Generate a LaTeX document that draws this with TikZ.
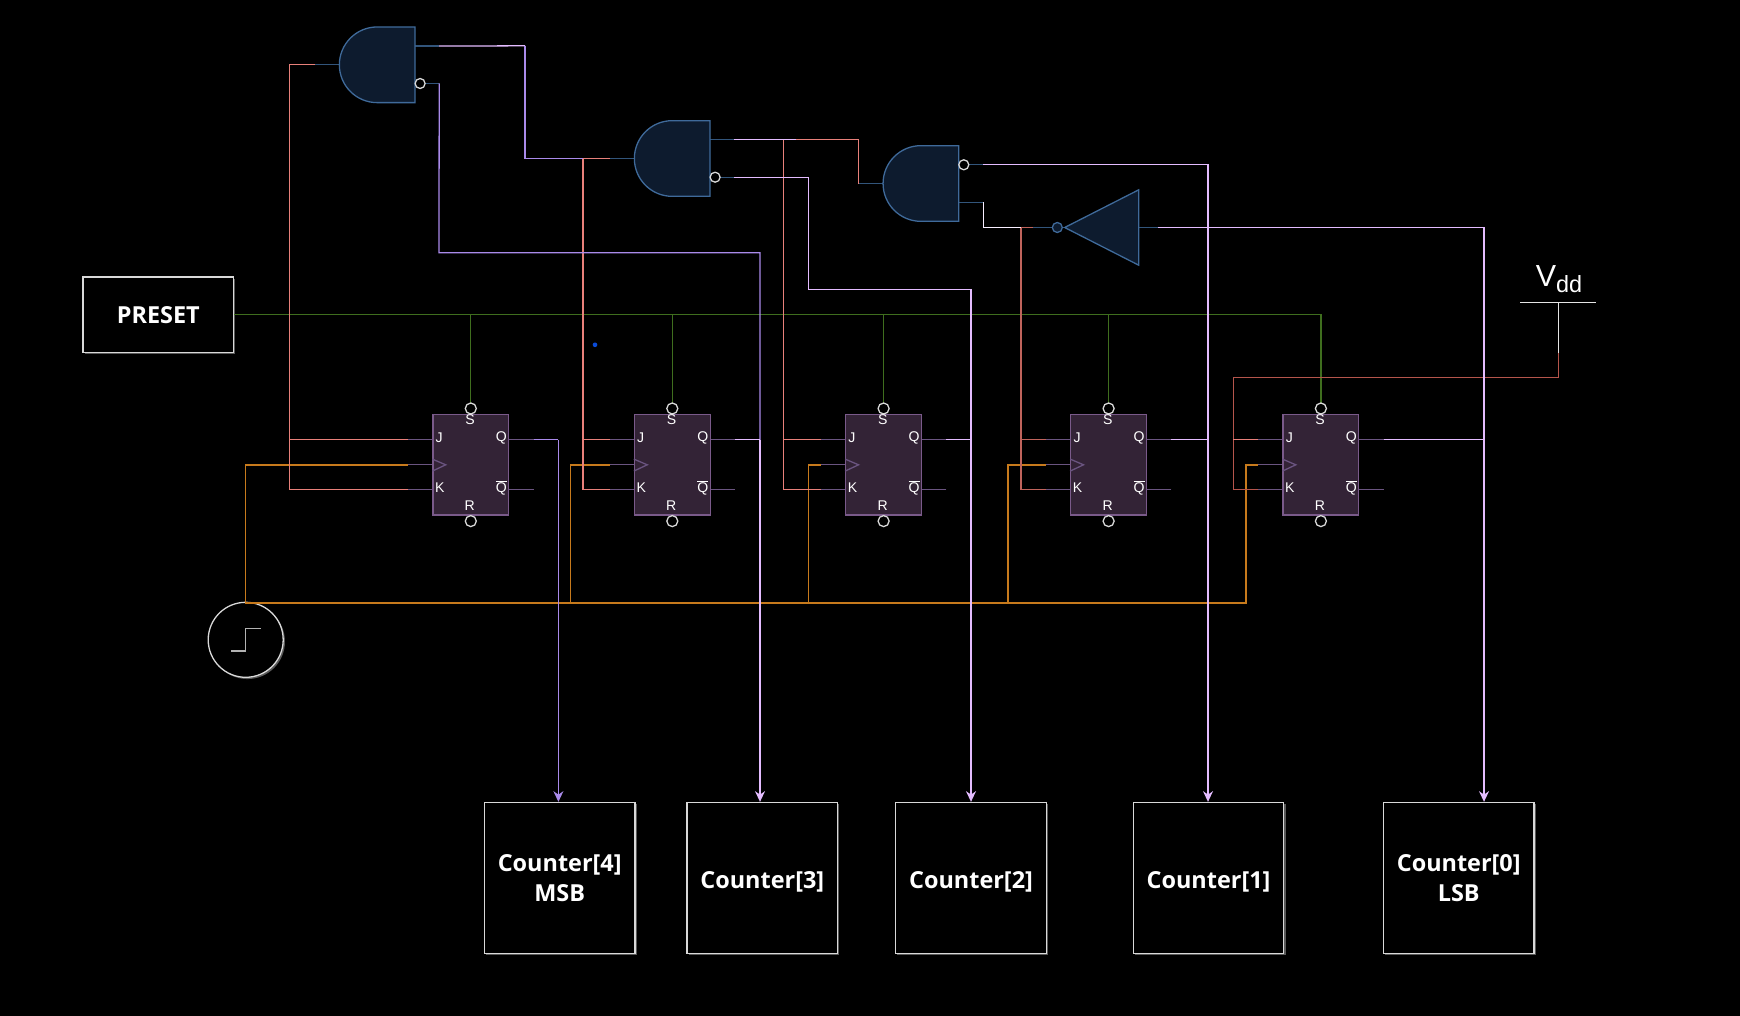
\documentclass[tikz,border=0pt]{standalone}
\usepackage{fontspec}
\setmainfont{Open Sans}
\newfontfamily\pinfont{Liberation Sans}
\usetikzlibrary{arrows.meta,shapes.geometric,shadows}
\definecolor{gatefill}{HTML}{0D1B2E}
\definecolor{gateline}{HTML}{3F6A9A}
\definecolor{fffill}{HTML}{332336}
\definecolor{ffline}{HTML}{7A5A8A}
\definecolor{ffstub}{HTML}{6A5480}
\definecolor{jkwire}{HTML}{E8807A}
\definecolor{jkdark}{HTML}{C0645C}
\definecolor{vddwire}{HTML}{B5554C}
\definecolor{setwire}{HTML}{3F6E1E}
\definecolor{clkwire}{HTML}{C77A1C}
\definecolor{qwire}{HTML}{A98AEA}
\definecolor{lilac}{HTML}{E4BCFF}
\definecolor{dotblue}{HTML}{0A4BD8}
\begin{document}
\begin{tikzpicture}[x=0.03cm, y=-0.03cm, line width=1.1pt,
      every node/.append style={inner sep=0pt},
      gatebox/.style={minimum width=2.27cm,minimum height=2.27cm,outer sep=0pt},
      gate/.style={draw=gateline,fill=gatefill},
      gatestub/.style={draw=gateline!80!black},
      ffbox/.style={draw=ffline,fill=fffill,minimum width=2.27cm,minimum height=3.02cm},
      ffstubline/.style={draw=ffstub},
      pin/.style={font=\pinfont\fontsize{12}{12}\selectfont,text=white},
      bubble/.style={circle,draw=white!85!black,fill=black,minimum size=0.33cm},
      outbox/.style={draw=white!85!black,fill=black,minimum width=4.52cm,minimum height=4.52cm,align=center,
        font=\bfseries\fontsize{20}{25.6}\selectfont,text=white,
        drop shadow={shadow xshift=1.5pt,shadow yshift=-1.5pt,fill=white,opacity=.35}},
      oneline/.style={text height=22pt,text depth=4.5pt},
      jkline/.style={draw=jkwire,line width=1pt},
      jkdarkline/.style={draw=jkdark,line width=1pt},
      clkline/.style={draw=clkwire,line width=1.3pt},
      setline/.style={draw=setwire},
      qline/.style={draw=qwire},
      lilacline/.style={draw=lilac},
      tip/.style={-{Stealth[length=3.2mm,width=3mm]}}]
    \fill[black] (0,-0.8) rectangle (1740,1015.2);
    \useasboundingbox (0,-0.8) rectangle (1740,1015.2);
    % outputs and sources
    \node (c4) [outbox] at (559.7,877) {Counter[4]\\MSB};
    \node (c3) [outbox,oneline] at (762.3,877) {Counter[3]};
    \node (c2) [outbox,oneline] at (971,877) {Counter[2]};
    \node (c1) [outbox,oneline] at (1208.5,877) {Counter[1]};
    \node (c0) [outbox] at (1458.7,877) {Counter[0]\\LSB};
    \node (preset) [outbox,minimum width=4.52cm,minimum height=2.26cm] at (158.3,314) {PRESET};
    \node (clk) [circle,draw=white!85!black,fill=black,minimum size=2.25cm,
      drop shadow={shadow xshift=1.5pt,shadow yshift=-1.5pt,fill=white,opacity=.35}] at (245.7,639) {};
    \draw[white!70!black] (clk.center) +(-14.3,11.3) -- +(0,11.3) -- +(0,-11.3) -- +(15,-11.3);
    \node (dot) [circle,fill=dotblue,minimum size=0.14cm] at (595,344) {};
    % flip flops
    \foreach \n/\x in {1/470.8,2/672.3,3/883.6,4/1108.6,5/1320.9} {
      \coordinate (j\n) at (\x-62.8,439);
      \coordinate (t\n) at (\x-62.8,464);
      \coordinate (k\n) at (\x-62.8,489);
      \coordinate (q\n) at (\x+62.8,439);
      \coordinate (nq\n) at (\x+62.8,489);
      \coordinate (drop\n) at (\x,314);
      \draw[setline] (drop\n) -- (\x,402);
      \draw[ffstubline] (j\n) -- (\x,439) (t\n) -- (\x,464) (k\n) -- (\x,489) (q\n) -- (\x,439) (nq\n) -- (\x,489);
      \node (ff\n) [ffbox] at (\x,464) {};
      \draw[ffstubline] (ff\n.west) +(0,-5.7) -- +(13.4,0) -- +(0,6.3);
      \node (s\n) [bubble] at (\x,407.7) {};
      \node (r\n) [bubble] at (\x,520.3) {};
      \node (ls\n) [pin] at (\x-0.8,419) {S};
      \node (lr\n) [pin] at (\x-1,505) {R};
      \node (lj\n) [pin] at (\x-31.6,437.3) {J};
      \node (lk\n) [pin] at (\x-31,487) {K};
      \node (lq\n) [pin] at (\x+30.5,437.3) {Q};
      \node (lnq\n) [pin] at (\x+30.5,487) {$\overline{\mbox{Q}}$};
    }
    % gates
    \foreach \n/\x/\y/\s in {1/377.2/64/1,2/672.2/157.7/1,3/920.9/182.7/-1} {
      \coordinate (gi\n) at (\x-62.2,\y);
      \coordinate (gq\n) at (\x+62,\y-18.7*\s);
      \coordinate (gb\n) at (\x+62,\y+18.7*\s);
      \draw[gatestub] (gi\n) -- (\x,\y) (gq\n) -- (\x,\y-18.7*\s) (gb\n) -- (\x,\y+18.7*\s);
      \node (and\n) [gatebox] at (\x,\y) {};
      \draw[gate] (and\n.north east) -- (and\n.north) arc[start angle=90,end angle=270,radius=1.135cm] -- (and\n.south east) -- cycle;
      \node (nb\n) [bubble,minimum size=0.3cm] at (\x+42.9,\y+18.7*\s) {};
    }
    \coordinate (invin) at (1033,226.7);
    \coordinate (invout) at (1158,226.7);
    \draw[gatestub] (invin) -- (invout);
    \node (inv) [isosceles triangle,isosceles triangle stretches=true,shape border rotate=180,
      minimum height=2.22cm,minimum width=2.26cm,gate,anchor=apex] at (1063,226.7) {};
    \node (invb) [circle,draw=gateline,fill=gatefill,minimum size=0.3cm] at (1057.3,226.7) {};
    % preset and clock
    \draw[setline] (preset.east) -- (drop5) -- (drop5 |- s5.north);
    \coordinate (clktop) at (245.7,602.4);
    \coordinate (clkend) at (1246,602.4);
    \draw[clkline] (t1) -- (clktop |- t1) -- (clktop) -- (clkend) -- (clkend |- t5) -- (t5);
    \coordinate (bus2) at (570.7,602.4);
    \coordinate (bus3) at (808.6,602.4);
    \coordinate (bus4) at (1008,602.4);
    \draw[clkline] (bus2) -- (bus2 |- t2) -- (t2);
    \draw[clkline] (bus3) -- (bus3 |- t3) -- (t3);
    \draw[clkline] (bus4) -- (bus4 |- t4) -- (t4);
    % jk rails
    \coordinate (rail1) at (289.6,64);
    \coordinate (rail2) at (583,157.7);
    \coordinate (rail3) at (783.6,139);
    \coordinate (rail4) at (1021,226.7);
    \coordinate (rail5) at (1233.4,377);
    \coordinate (vddfoot) at (1558.4,377);
    \coordinate (vddlow) at (1558.4,351.7);
    \draw[jkline] (gi1) -- (rail1) -- (rail1 |- k1) -- (k1) (rail1 |- j1) -- (j1);
    \draw[jkline] (rail2) -- (gi2) (rail2) -- (rail2 |- k2) -- (k2) (rail2 |- j2) -- (j2);
    \draw[jkline] (rail3) -- (rail3 |- k3) -- (k3) (rail3 |- j3) -- (j3);
    \draw[jkdarkline] (rail4) -- (invin) (rail4) -- (rail4 |- k4) -- (k4) (rail4 |- j4) -- (j4);
    \draw[draw=vddwire] (vddlow) -- (vddfoot) -- (rail5) -- (rail5 |- k5) -- (k5);
    \draw[jkline] (rail5 |- j5) -- (j5);
    % vdd
    \node (vdd) [minimum width=2.24cm,minimum height=0pt] at (1558.4,301.7) {};
    \node (vddtext) [text=white,font=\pinfont\fontsize{26}{26}\selectfont,anchor=base] at (1559,285.5)
      {V{\fontsize{20}{20}\selectfont\raisebox{-5pt}{dd}}};
    \draw[white!90!black] (vdd.west) -- (vdd.east);
    \draw[white!90!black] (vdd.center) -- (vddlow);
    % gate outputs
    \coordinate (w1) at (525,45);
    \coordinate (w2) at (439,252);
    \coordinate (w3) at (796,139);
    \coordinate (w4) at (808.6,289);
    \coordinate (w5) at (858.4,139);
    \coordinate (w6) at (983.4,226.7);
    \coordinate (o4) at (558.4,439);
    \coordinate (o3) at (760,439);
    \coordinate (o2) at (971,439);
    \coordinate (o1) at (1208,439);
    \coordinate (o0) at (1484,439);
    \draw[lilacline] (gq1) -- (w1);
    \draw[qline] (w1) -- (w1 |- rail2) -- (rail2);
    \draw[qline] (gb1) -- (w2) -- (o3 |- w2) -- (o3);
    \draw[lilacline] (gq2) -- (w3);
    \draw[jkline] (w3) -- (w5) -- (w5 |- gi3) -- (gi3);
    \draw[lilacline] (gb2) -- (w4 |- gb2) -- (w4) -- (o2 |- w4) -- (o2);
    \draw[lilacline] (gb3) -- (o1 |- gb3) -- (o1);
    \draw[white!75!lilac] (gq3) -- (gq3 -| w6) -- (w6) -- (rail4);
    \draw[lilacline] (invout) -- (o0 |- invout) -- (o0);
    % flip flop outputs
    \draw[qline] (q1) -- (o4);
    \draw[lilacline] (q2) -- (o3);
    \draw[lilacline] (q3) -- (o2);
    \draw[lilacline] (q4) -- (o1);
    \draw[lilacline] (q5) -- (o0);
    \draw[tip,qline] (o4) -- (o4 |- c4.north);
    \draw[tip,lilacline] (o3) -- (o3 |- c3.north);
    \draw[tip,lilacline] (o2) -- (o2 |- c2.north);
    \draw[tip,lilacline] (o1) -- (o1 |- c1.north);
    \draw[tip,lilacline] (o0) -- (o0 |- c0.north);
  \end{tikzpicture}
\end{document}
